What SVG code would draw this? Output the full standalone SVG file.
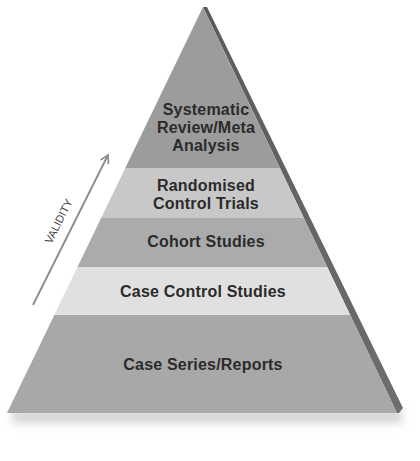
<svg xmlns="http://www.w3.org/2000/svg" width="420" height="461" viewBox="0 0 420 461">
  <defs>
    <clipPath id="tri"><polygon points="203,7 7,413 397,413"/></clipPath>
    <linearGradient id="edge" x1="0" y1="0" x2="0" y2="1">
      <stop offset="0" stop-color="#5a5a5a"/>
      <stop offset="1" stop-color="#6e6e6e"/>
    </linearGradient>
    <filter id="blur" x="-10%" y="-100%" width="120%" height="300%"><feGaussianBlur stdDeviation="4"/></filter>
    <marker id="chev" viewBox="0 0 10 10" refX="8" refY="5" markerWidth="5.5" markerHeight="5.5" orient="auto" markerUnits="strokeWidth">
      <path d="M1,1 L8,5 L1,9" fill="none" stroke="#8e8e8e" stroke-width="1.6"/>
    </marker>
    <style>
      .lbl { font-family: "Liberation Sans", Arial, sans-serif; font-weight: bold; font-size: 16px; letter-spacing: 0.2px; fill: #2b2b2b; text-anchor: middle; }
      .val { font-family: "Liberation Sans", Arial, sans-serif; font-size: 11px; fill: #444444; text-anchor: middle; }
    </style>
  </defs>
  <rect width="420" height="461" fill="#ffffff"/>
  <rect x="12" y="410" width="390" height="13" fill="#b0b0b0" opacity="0.55" filter="url(#blur)"/>
  <polygon points="203,7 207,7 403,408 399,413 397,413" fill="url(#edge)"/>
  <g clip-path="url(#tri)">
    <g id="level1"><rect x="0" y="0" width="420" height="168" fill="#9c9c9c"/></g>
    <g id="level2"><rect x="0" y="168" width="420" height="50" fill="#c8c8c8"/></g>
    <g id="level3"><rect x="0" y="218" width="420" height="49" fill="#ababab"/></g>
    <g id="level4"><rect x="0" y="267" width="420" height="48" fill="#e0e0e0"/></g>
    <g id="level5"><rect x="0" y="315" width="420" height="98" fill="#a8a8a8"/></g>
  </g>
  <g id="labels">
    <text class="lbl" x="206" y="115">Systematic</text>
    <text class="lbl" x="206" y="133">Review/Meta</text>
    <text class="lbl" x="206" y="151">Analysis</text>
    <text class="lbl" x="206" y="191">Randomised</text>
    <text class="lbl" x="206" y="209">Control Trials</text>
    <text class="lbl" x="206" y="247">Cohort Studies</text>
    <text class="lbl" x="203" y="297">Case Control Studies</text>
    <text class="lbl" x="203" y="370">Case Series/Reports</text>
  </g>
  <g id="connectors">
    <line x1="33" y1="305" x2="108" y2="155" stroke="#8e8e8e" stroke-width="2" marker-end="url(#chev)"/>
  </g>
  <g id="validity">
    <text class="val" transform="translate(62,223) rotate(-63.4)">VALIDITY</text>
  </g>
</svg>
